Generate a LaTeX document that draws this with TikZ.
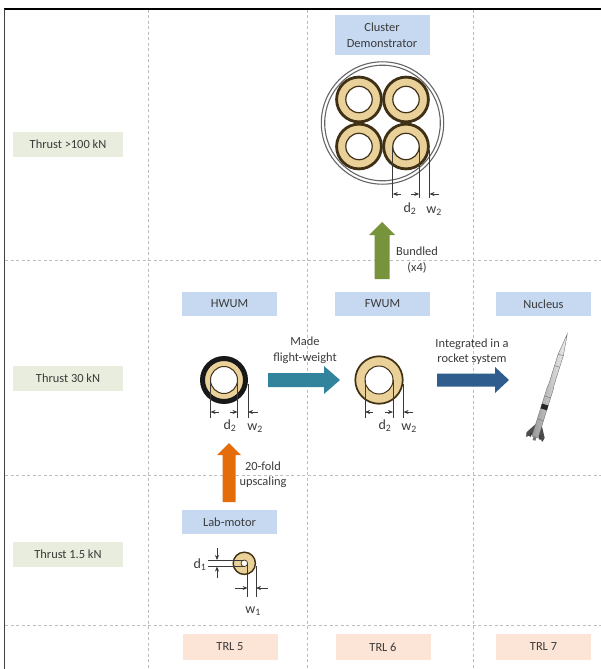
\documentclass[tikz,border=0pt]{standalone}
\usepackage{fontspec}
\setmainfont{Carlito}
\usetikzlibrary{arrows.meta,calc}

\definecolor{txt}{HTML}{3A3A3A}
\definecolor{lblblue}{HTML}{C6D9F1}
\definecolor{lblgreen}{HTML}{E9EDDD}
\definecolor{lblpeach}{HTML}{FCE4D6}
\definecolor{grain}{HTML}{EAD199}
\definecolor{rim}{HTML}{3F3016}
\definecolor{gridgray}{HTML}{BDBDBD}
\definecolor{tealarrow}{HTML}{31849B}
\definecolor{bluearrow}{HTML}{2E5D8E}
\definecolor{greenarrow}{HTML}{77933C}
\definecolor{orangearrow}{HTML}{E46C0A}

\begin{document}
\begin{tikzpicture}[x=1pt,y=-1pt,
  every node/.style={text=txt, font=\fontsize{12.4}{15}\selectfont},
  tag/.style={minimum width=95pt, minimum height=24pt, inner sep=0pt, align=center},
  stage/.style={tag, fill=lblblue},
  thrust/.style={tag, minimum width=110pt, minimum height=25pt, fill=lblgreen},
  trl/.style={tag, fill=lblpeach, minimum height=26pt},
  caption/.style={align=center, inner sep=0pt, font=\fontsize{12.4}{15.5}\selectfont},
  dimlabel/.style={inner sep=0pt, font=\fontsize{14}{15}\selectfont},
  gridline/.style={draw=gridgray, line width=0.7pt, dash pattern=on 3pt off 2.5pt},
  dimline/.style={draw=txt, line width=0.65pt},
  dimarrow/.style={dimline, -{Stealth[length=5pt,width=4pt]}},
]
\useasboundingbox (0,0) rectangle (601,669);

% ---------- frame and grid ----------
\draw[gridline] (148,10) -- (148,669);
\draw[gridline] (307,10) -- (307,669);
\draw[gridline] (473,10) -- (473,669);
\draw[gridline] (5,260) -- (601,260);
\draw[gridline] (5,475) -- (601,475);
\draw[gridline] (5,625) -- (601,625);
\draw[black, line width=2pt] (4,9) -- (601,9);
\draw[black!75, line width=1.2pt] (4.5,9) -- (4.5,669);

% ---------- row and column labels ----------
\node[thrust] (t100) at (68,144.5) {Thrust >100 kN};
\node[thrust] (t30)  at (68,378)   {Thrust 30 kN};
\node[thrust] (t15)  at (68,554.5) {Thrust 1.5 kN};

\node[trl] (trl5) at (230,647)   {TRL 5};
\node[trl] (trl6) at (383,647)   {TRL 6};
\node[trl] (trl7) at (543.5,647) {TRL 7};

% ---------- stage titles ----------
\node[stage, minimum height=40pt, font=\fontsize{12.4}{16.5}\selectfont] (cluster) at (382,35) {Cluster\\Demonstrator};
\node[stage] (hwum)    at (229.5,304) {HWUM};
\node[stage] (fwum)    at (382.5,304) {FWUM};
\node[stage] (nucleus) at (543.5,304) {Nucleus};
\node[stage] (lab)     at (229.5,522) {Lab-motor};

% ---------- cluster demonstrator ----------
\coordinate (cc) at (382.5,123);
\draw[black!60, line width=1.1pt] (cc) circle[radius=57.8pt];
\draw[black!60, line width=1.1pt] (cc) circle[radius=61.2pt];
\foreach \dx/\dy in {-23.5/-23.5, 23.5/-23.5, -23.5/23.5, 23.5/23.5}{
  \fill[grain] ($(cc)+(\dx,\dy)$) circle[radius=22.8pt];
  \draw[rim, line width=2.8pt] ($(cc)+(\dx,\dy)$) circle[radius=22.4pt];
  \filldraw[fill=white, draw=rim, line width=1.2pt] ($(cc)+(\dx,\dy)$) circle[radius=13.2pt];
}
% dimensions on the lower right chamber
\draw[dimline] (392.8,146.5) -- (392.8,198);
\draw[dimline] (419.2,146.5) -- (419.2,198);
\draw[dimline] (429.5,150) -- (429.5,198);
\draw[dimarrow] (401,194) -- (392.8,194);
\draw[dimarrow] (411,194) -- (419.2,194);
\draw[dimarrow] (439,194) -- (429.5,194);
\node[dimlabel] (cd) at (410,209) {d\textsubscript{2}};
\node[dimlabel] (cw) at (434,211) {w\textsubscript{2}};

% ---------- HWUM ----------
\coordinate (mh) at (224,380);
\fill[grain] (mh) circle[radius=21pt];
\draw[black!90, line width=5pt] (mh) circle[radius=21.5pt];
\filldraw[fill=white, draw=rim, line width=1pt] (mh) circle[radius=13.5pt];
\draw[dimline] (210.5,380) -- (210.5,418);
\draw[dimline] (237.5,380) -- (237.5,418);
\draw[dimline] (248,384) -- (248,418);
\draw[dimarrow] (218.5,412) -- (210.5,412);
\draw[dimarrow] (229.5,412) -- (237.5,412);
\draw[dimarrow] (257.5,412) -- (248,412);
\node[dimlabel] (hd) at (230,426) {d\textsubscript{2}};
\node[dimlabel] (hw) at (255,428) {w\textsubscript{2}};

% ---------- FWUM ----------
\coordinate (mf) at (379,380);
\fill[grain] (mf) circle[radius=24.5pt];
\draw[rim, line width=1.7pt] (mf) circle[radius=23.7pt];
\filldraw[fill=white, draw=rim, line width=1pt] (mf) circle[radius=14pt];
\draw[dimline] (365,380) -- (365,418);
\draw[dimline] (393,380) -- (393,418);
\draw[dimline] (403.5,384) -- (403.5,418);
\draw[dimarrow] (373,412) -- (365,412);
\draw[dimarrow] (385,412) -- (393,412);
\draw[dimarrow] (413,412) -- (403.5,412);
\node[dimlabel] (fd) at (385,426) {d\textsubscript{2}};
\node[dimlabel] (fw) at (409,428) {w\textsubscript{2}};

% ---------- lab motor ----------
\coordinate (ml) at (244.3,563.3);
\fill[grain] (ml) circle[radius=11.7pt];
\draw[rim, line width=1.4pt] (ml) circle[radius=11.1pt];
\filldraw[fill=white, draw=rim, line width=0.7pt] (ml) circle[radius=3.3pt];
\draw[dimline] (208,560) -- (244.3,560);
\draw[dimline] (208,566.6) -- (244.3,566.6);
\draw[dimarrow] (217,548) -- (217,560);
\draw[dimarrow] (217,578) -- (217,566.6);
\draw[dimline] (247.6,563.3) -- (247.6,597);
\draw[dimline] (256,566) -- (256,597);
\draw[dimarrow] (235,588) -- (247.6,588);
\draw[dimarrow] (268,588) -- (256,588);
\node[dimlabel] (ld) at (200,565) {d\textsubscript{1}};
\node[dimlabel] (lw) at (253,611) {w\textsubscript{1}};

% ---------- rocket ----------
\begin{scope}[shift={(535,437)}, rotate=-17.4]
  \fill[black!70] (-3,-13) -- (-9.5,-2) -- (-8.5,2.5) -- (-3,-2) -- cycle;
  \fill[black!70] (3,-13) -- (9.5,-2) -- (8.5,2.5) -- (3,-2) -- cycle;
  \fill[black!55] (-1.2,-10) -- (-1.5,3.5) -- (1.5,3.5) -- (1.2,-10) -- cycle;
  \shadedraw[left color=black!40, right color=black!6, draw=black!55, line width=0.4pt]
    (-3.2,0) -- (-3.2,-52) -- (-2.7,-54) -- (-2.7,-86) -- (0,-108) -- (2.7,-86)
    -- (2.7,-54) -- (3.2,-52) -- (3.2,0) -- cycle;
  \fill[black!85] (-3.3,-34) rectangle (3.3,-29);
  \draw[black!55, line width=0.4pt] (-3.2,-42) -- (3.2,-42);
  \draw[black!55, line width=0.4pt] (-3.2,-18) -- (3.2,-18);
  \draw[black!55, line width=0.4pt] (-2.7,-74) -- (2.7,-74);
  \draw[black!55, line width=0.4pt] (-2.7,-86) -- (2.7,-86);
  \fill[black!75] (-6,-3) rectangle (-4,1);
  \fill[black!75] (4,-3) rectangle (6,1);
\end{scope}

% ---------- transition arrows ----------
\coordinate (mfa) at (268,380);  \coordinate (mfb) at (340,380);
\fill[tealarrow] ($(mfa)+(0,-7)$) -- ($(mfb)+(-16,-7)$) -- ($(mfb)+(-16,-14)$) -- (mfb)
  -- ($(mfb)+(-16,14)$) -- ($(mfb)+(-16,7)$) -- ($(mfa)+(0,7)$) -- cycle;
\node[caption] (mfl) at (305,350.5) {Made\\flight-weight};

\coordinate (ira) at (437,380);  \coordinate (irb) at (509,380);
\fill[bluearrow] ($(ira)+(0,-6.5)$) -- ($(irb)+(-14,-6.5)$) -- ($(irb)+(-14,-13)$) -- (irb)
  -- ($(irb)+(-14,13)$) -- ($(irb)+(-14,6.5)$) -- ($(ira)+(0,6.5)$) -- cycle;
\node[caption] (irl) at (472,351.5) {Integrated in a\\rocket system};

\coordinate (bua) at (382,279);  \coordinate (bub) at (382,222);
\fill[greenarrow] ($(bua)+(-7.5,0)$) -- ($(bub)+(-7.5,13)$) -- ($(bub)+(-13,13)$) -- (bub)
  -- ($(bub)+(13,13)$) -- ($(bub)+(7.5,13)$) -- ($(bua)+(7.5,0)$) -- cycle;
\node[caption] (bul) at (417,260) {Bundled\\(x4)};

\coordinate (upa) at (229,502);  \coordinate (upb) at (229,443);
\fill[orangearrow] ($(upa)+(-6.5,0)$) -- ($(upb)+(-6.5,12)$) -- ($(upb)+(-12,12)$) -- (upb)
  -- ($(upb)+(12,12)$) -- ($(upb)+(6.5,12)$) -- ($(upa)+(6.5,0)$) -- cycle;
\node[caption] (upl) at (263,475) {20-fold\\upscaling};

\end{tikzpicture}
\end{document}
